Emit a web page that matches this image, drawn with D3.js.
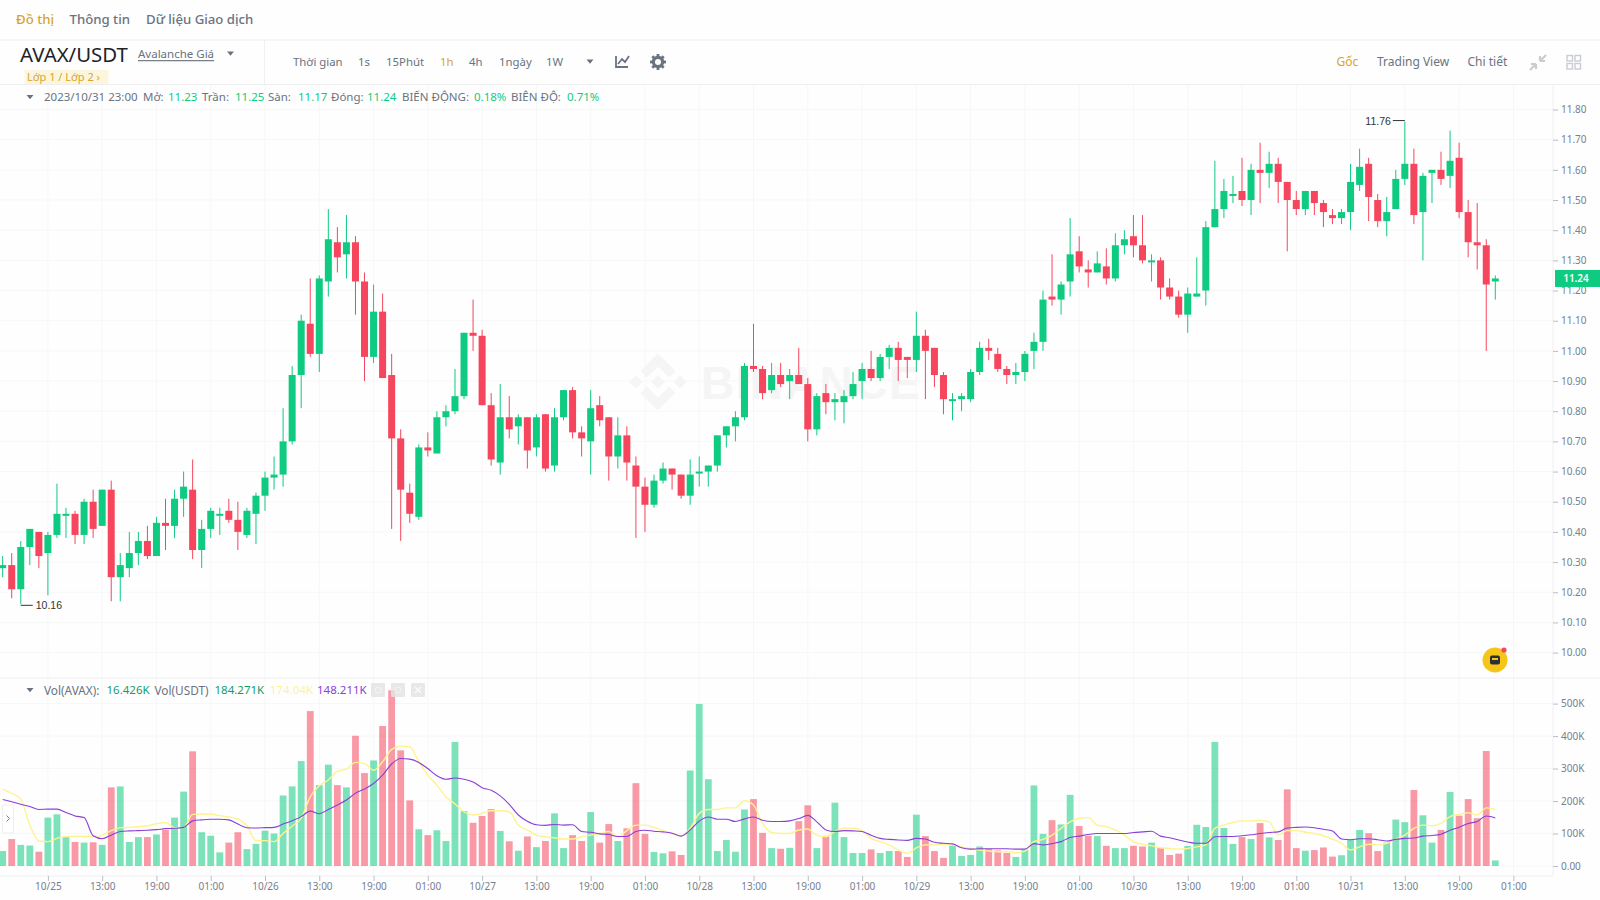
<!DOCTYPE html>
<html><head><meta charset="utf-8">
<script src="https://cdnjs.cloudflare.com/ajax/libs/d3/7.8.5/d3.min.js"></script>
<style>
html,body{margin:0;padding:0;background:#fefefe;overflow:hidden}
svg{display:block}
text{font-family:"Noto Sans",sans-serif}
</style></head><body>
<svg id="c" width="1600" height="900"></svg>
<script>
const opens=[10.28,10.29,10.21,10.35,10.40,10.33,10.39,10.46,10.46,10.39,
10.50,10.42,10.54,10.25,10.28,10.33,10.37,10.32,10.43,10.42,
10.51,10.54,10.34,10.41,10.46,10.47,10.44,10.39,10.46,10.52,
10.58,10.59,10.70,10.92,11.09,10.99,11.23,11.36,11.32,11.36,
11.23,10.98,11.13,10.92,10.71,10.53,10.45,10.68,10.66,10.78,
10.80,10.85,11.06,11.05,10.82,10.63,10.78,10.75,10.78,10.68,
10.79,10.62,10.78,10.87,10.73,10.70,10.82,10.78,10.65,10.72,
10.62,10.55,10.49,10.57,10.61,10.59,10.52,10.60,10.60,10.62,
10.72,10.75,10.78,10.95,10.94,10.87,10.92,10.90,10.92,10.89,
10.74,10.86,10.83,10.83,10.85,10.90,10.94,10.91,10.98,11.01,
10.98,10.97,11.05,11.01,10.92,10.84,10.84,10.84,10.93,11.01,
10.99,10.94,10.92,10.93,11.00,11.03,11.18,11.17,11.23,11.33,
11.27,11.26,11.28,11.24,11.35,11.38,11.35,11.30,11.30,11.21,
11.18,11.12,11.18,11.20,11.41,11.47,11.52,11.53,11.50,11.60,
11.59,11.62,11.56,11.50,11.47,11.53,11.49,11.45,11.44,11.46,
11.55,11.62,11.50,11.43,11.47,11.57,11.62,11.46,11.59,11.60,
11.58,11.64,11.46,11.36,11.35,11.23];
const closes=[10.29,10.21,10.35,10.41,10.32,10.39,10.46,10.46,10.39,10.50,
10.41,10.54,10.25,10.29,10.33,10.37,10.32,10.43,10.42,10.51,
10.55,10.34,10.41,10.47,10.46,10.44,10.40,10.47,10.52,10.58,
10.59,10.70,10.92,11.10,10.99,11.24,11.37,11.31,11.36,11.23,
10.98,11.13,10.91,10.71,10.54,10.46,10.68,10.67,10.78,10.80,
10.85,11.06,11.05,10.82,10.64,10.78,10.74,10.78,10.67,10.78,
10.61,10.78,10.87,10.73,10.71,10.81,10.77,10.65,10.72,10.63,
10.55,10.49,10.57,10.61,10.59,10.52,10.59,10.60,10.62,10.72,
10.75,10.78,10.95,10.94,10.86,10.92,10.89,10.92,10.89,10.74,
10.85,10.83,10.84,10.85,10.89,10.94,10.91,10.98,11.01,10.97,
10.97,11.05,11.00,10.92,10.84,10.84,10.85,10.93,11.01,11.00,
10.94,10.92,10.93,10.99,11.03,11.17,11.17,11.22,11.32,11.28,
11.26,11.29,11.24,11.35,11.37,11.35,11.30,11.30,11.21,11.18,
11.12,11.19,11.19,11.41,11.47,11.53,11.52,11.50,11.60,11.59,
11.62,11.56,11.50,11.47,11.53,11.49,11.46,11.44,11.46,11.56,
11.61,11.51,11.43,11.46,11.57,11.62,11.45,11.58,11.60,11.57,
11.63,11.46,11.36,11.35,11.22,11.24];
const highs=[10.32,10.33,10.37,10.41,10.40,10.40,10.56,10.48,10.47,10.51,
10.54,10.54,10.57,10.33,10.40,10.40,10.42,10.45,10.51,10.54,
10.60,10.64,10.44,10.48,10.48,10.51,10.50,10.48,10.53,10.60,
10.65,10.81,10.95,11.12,11.24,11.25,11.47,11.41,11.45,11.38,
11.26,11.22,11.19,10.99,10.74,10.56,10.69,10.73,10.80,10.82,
10.94,11.06,11.17,11.07,10.86,10.89,10.85,10.79,10.78,10.79,
10.79,10.81,10.87,10.88,10.75,10.87,10.85,10.78,10.78,10.75,
10.65,10.58,10.59,10.63,10.61,10.59,10.64,10.65,10.62,10.72,
10.75,10.80,10.96,11.09,10.95,10.96,10.96,10.94,11.01,10.91,
10.86,10.89,10.86,10.87,10.93,10.96,11.00,10.99,11.02,11.03,
10.98,11.13,11.07,11.01,10.93,10.86,10.86,10.94,11.03,11.04,
11.01,10.95,10.96,11.00,11.06,11.20,11.32,11.23,11.44,11.38,
11.30,11.33,11.34,11.39,11.40,11.45,11.45,11.32,11.31,11.24,
11.20,11.21,11.31,11.43,11.63,11.57,11.58,11.64,11.62,11.69,
11.66,11.64,11.56,11.53,11.53,11.53,11.50,11.47,11.47,11.62,
11.67,11.64,11.52,11.51,11.60,11.76,11.67,11.59,11.60,11.66,
11.73,11.69,11.50,11.49,11.37,11.25];
const lows=[10.25,10.18,10.16,10.29,10.28,10.19,10.38,10.38,10.36,10.36,
10.38,10.42,10.17,10.17,10.25,10.29,10.31,10.32,10.34,10.38,
10.45,10.31,10.28,10.38,10.39,10.43,10.34,10.38,10.36,10.47,
10.54,10.55,10.69,10.81,10.98,10.93,11.18,11.26,11.24,11.12,
10.90,10.96,10.91,10.41,10.37,10.43,10.44,10.65,10.66,10.75,
10.79,10.84,11.00,10.82,10.62,10.59,10.71,10.69,10.61,10.65,
10.60,10.60,10.77,10.71,10.65,10.59,10.75,10.57,10.61,10.57,
10.38,10.40,10.48,10.56,10.54,10.51,10.49,10.55,10.55,10.60,
10.68,10.70,10.77,10.93,10.84,10.86,10.88,10.84,10.89,10.70,
10.72,10.79,10.77,10.76,10.84,10.84,10.90,10.90,10.94,10.90,
10.91,10.93,10.84,10.88,10.79,10.77,10.80,10.83,10.92,10.97,
10.93,10.89,10.89,10.90,10.94,11.00,11.15,11.12,11.18,11.26,
11.21,11.26,11.22,11.23,11.32,11.31,11.29,11.23,11.17,11.17,
11.11,11.06,11.18,11.15,11.41,11.44,11.49,11.48,11.45,11.49,
11.54,11.49,11.33,11.45,11.45,11.45,11.41,11.42,11.42,11.40,
11.53,11.43,11.41,11.38,11.47,11.55,11.42,11.30,11.49,11.55,
11.54,11.44,11.31,11.27,11.00,11.17];
const volumes=[46,83,65,63,44,149,159,89,74,72,
73,65,242,245,74,89,89,97,111,149,
229,353,104,93,42,72,104,52,68,109,
100,217,245,323,477,249,312,249,242,401,
286,325,431,541,356,202,113,95,110,77,
382,169,133,154,175,108,76,47,91,58,
77,162,55,95,77,166,72,129,77,116,
255,99,43,39,45,34,294,499,267,46,
80,44,174,206,102,55,53,56,138,187,
55,93,195,89,40,40,51,40,46,46,
28,158,92,46,25,63,31,34,60,53,
48,40,28,50,248,99,141,128,219,123,
93,92,62,55,55,62,60,72,55,34,
38,62,127,120,382,117,68,89,83,132,
88,80,236,55,47,49,57,29,33,80,
111,101,46,72,143,135,234,156,72,111,
228,155,206,147,354,17];
const maYellow=[237,224,206,126,77,75,85,91,91,91,
91,95,109,118,119,121,124,130,134,118,
118,159,160,160,155,151,145,124,78,78,
75,100,123,147,213,247,265,292,298,319,
316,295,321,359,369,367,321,280,249,213,
191,167,157,162,170,170,167,126,111,95,
90,87,83,83,90,95,100,106,90,109,
126,126,119,109,100,93,116,162,174,174,
179,179,201,188,131,103,100,100,111,114,
95,90,106,116,116,109,85,75,65,49,
39,56,65,65,67,65,59,54,49,46,
44,44,41,46,75,82,95,116,136,147,
149,126,121,111,95,75,67,62,56,54,
52,54,59,65,116,126,134,139,139,140,
136,95,109,109,104,100,93,83,70,49,
59,67,65,70,83,95,116,126,124,131,
152,159,164,157,179,174];
const maPurple=[205,198,190,183,174,175,175,165,154,149,
93,84,95,106,108,109,110,112,115,116,
119,139,142,144,144,142,129,118,117,118,
119,129,139,152,169,161,174,188,203,224,
237,254,280,314,331,329,319,300,278,267,
271,267,259,241,233,216,190,157,138,127,
125,128,126,127,106,104,99,97,91,91,
106,110,107,105,101,92,111,138,151,144,
144,137,145,151,141,137,137,139,146,156,
136,111,106,109,108,106,95,85,82,80,
79,85,83,73,70,68,56,52,53,53,
53,53,52,52,69,65,69,75,88,92,
97,100,100,100,100,103,105,107,92,87,
80,74,70,70,90,91,91,93,96,100,
103,105,117,119,120,118,113,108,83,81,
84,84,81,77,82,85,86,92,94,98,
110,119,131,137,154,148];
const priceTicks=[10.0,10.1,10.2,10.3,10.4,10.5,10.6,10.7,10.8,10.9,11.0,11.1,11.2,11.3,11.4,11.5,11.6,11.7,11.8];
const volTicks=[0,100,200,300,400,500];
const timeLabels=["10/25","13:00","19:00","01:00","10/26","13:00","19:00","01:00","10/27","13:00","19:00","01:00","10/28","13:00","19:00","01:00","10/29","13:00","19:00","01:00","10/30","13:00","19:00","01:00","10/31","13:00","19:00","01:00"];
const tickIndex=timeLabels.map((_,k)=>5+k*6);

const GREEN="#0ecb81",RED="#f6465d",GOLD="#d6a52c",GREY="#76808f",TXT="#6a7380";
const svg=d3.select("#c");
const n=opens.length, idx=d3.range(n);
const x=d3.scaleLinear().domain([0,165]).range([2.67,1495.3]);
const yP=d3.scaleLinear().domain([10,11.8]).range([652.6,109.5]);
const yV=d3.scaleLinear().domain([0,500]).range([866,703.6]);
const axisX=1553;

function T(s,px,py,size,color,opt={}){
  const t=svg.append("text").attr("x",px).attr("y",py).attr("font-size",size).attr("fill",color)
    .attr("dominant-baseline","central").text(s);
  if(opt.weight)t.attr("font-weight",opt.weight);
  if(opt.anchor)t.attr("text-anchor",opt.anchor);
  if(opt.family)t.style("font-family",opt.family);
  if(opt.deco)t.attr("text-decoration",opt.deco);
  return t;
}
function tri(cx,cy,c="#6a7380"){svg.append("path").attr("d",`M${cx-3.5},${cy-2}L${cx+3.5},${cy-2}L${cx},${cy+2.2}Z`).attr("fill",c);}
function hline(y,x1,x2,c="#f0f0f0"){svg.append("line").attr("x1",x1).attr("x2",x2).attr("y1",y).attr("y2",y).attr("stroke",c);}

svg.append("rect").attr("width",1600).attr("height",900).attr("fill","#fefefe");

// grid
const grid=svg.append("g").attr("stroke","#f7f7f7").attr("stroke-width",1);
grid.selectAll(".h").data(priceTicks).join("line").attr("x1",0).attr("x2",axisX).attr("y1",d=>yP(d)).attr("y2",d=>yP(d));
grid.selectAll(".hv").data(volTicks).join("line").attr("x1",0).attr("x2",axisX).attr("y1",d=>yV(d)).attr("y2",d=>yV(d));
grid.selectAll(".v").data(tickIndex).join("line").attr("x1",d=>x(d)).attr("x2",d=>x(d)).attr("y1",85).attr("y2",876);

// watermark
const wm=svg.append("g").attr("transform","translate(629.5,353.5) scale(0.45)");
wm.append("path").attr("fill","#f5f5f5").attr("d","M38.73 53.2l24.59-24.58 24.6 24.6 14.3-14.31L63.32 0 24.43 38.9l14.3 14.3zM0 63.31l14.3-14.3 14.31 14.3-14.31 14.3zM38.73 73.41L63.32 97.99l24.6-24.59 14.31 14.29-38.9 38.91-38.91-38.88-.02-.02zM98.01 63.31l14.3-14.3 14.3 14.3-14.3 14.3zM77.83 63.3L63.32 48.78 52.59 59.51l-1.24 1.23-2.54 2.54 14.51 14.5 14.51-14.47z");
T("BINANCE",701,383,46,"#f5f5f5",{weight:700,family:"Liberation Sans"}).attr("letter-spacing",1.5);

// header lines
hline(40,0,1600,"#eeeeee");hline(84.5,0,1600,"#eeeeee");hline(678,0,1600,"#eeeeee");
svg.append("line").attr("x1",264.5).attr("x2",264.5).attr("y1",40).attr("y2",84).attr("stroke","#f0f0f0");
svg.append("line").attr("x1",axisX).attr("x2",axisX).attr("y1",85).attr("y2",876).attr("stroke","#f0f0f0");
hline(876,0,axisX,"#f0f0f0");

// tabs
T("Đồ thị",16,19.3,13.2,GOLD,{weight:500});
T("Thông tin",69.5,19.3,13.2,TXT,{weight:500});
T("Dữ liệu Giao dịch",146,19.3,13.2,TXT,{weight:500});
T("AVAX/USDT",20,53.6,20.4,"#1e2329");
T("Avalanche Giá",138,53.6,11.5,TXT,{deco:"underline"});
tri(230.5,53.5);
svg.append("rect").attr("x",24.5).attr("y",70).attr("width",84).attr("height",14).attr("fill","#fdf6df");
T("Lớp 1 / Lớp 2 ›",27,76.2,11,"#d6a52c");
[["Thời gian",293,TXT],["1s",358,TXT],["15Phút",386,TXT],["1h",440,GOLD],["4h",469,TXT],["1ngày",499,TXT],["1W",546,TXT]]
 .forEach(d=>T(d[0],d[1],61.6,11.4,d[2]));
tri(590,61.5);
svg.append("path").attr("d","M616,56V67H628M618,64L622,59L625,62L629,56").attr("fill","none").attr("stroke","#6a7380").attr("stroke-width",1.8);
const gear=svg.append("g").attr("transform","translate(658,62)");
gear.append("circle").attr("r",4.6).attr("fill","none").attr("stroke","#6a7380").attr("stroke-width",3.2);
d3.range(8).forEach(k=>gear.append("rect").attr("x",-1.4).attr("y",-8).attr("width",2.8).attr("height",3).attr("fill","#6a7380").attr("transform",`rotate(${k*45})`));
T("Gốc",1336.5,61.6,12,GOLD);
T("Trading View",1377,61.6,12,TXT);
T("Chi tiết",1467.5,61.6,12,TXT);
svg.append("path").attr("d","M1530,70L1536,64M1536,64V69M1536,64H1531M1546,55L1540,61M1540,61V56M1540,61H1545").attr("fill","none").attr("stroke","#c9ccd1").attr("stroke-width",2.2);
[[0,0],[8,0],[0,8],[8,8]].forEach(o=>svg.append("rect").attr("x",1567+o[0]).attr("y",55.5+o[1]).attr("width",5.5).attr("height",5.5).attr("fill","none").attr("stroke","#c9ccd1").attr("stroke-width",1.4));

// info row
tri(30,97);
[["2023/10/31 23:00",44,TXT],["Mở:",143,TXT],["11.23",168,GREEN],["Trần:",202,TXT],["11.25",235,GREEN],["Sàn:",268,TXT],["11.17",298,GREEN],["Đóng:",331,TXT],["11.24",367,GREEN],["BIẾN ĐỘNG:",402,TXT],["0.18%",474,GREEN],["BIÊN ĐỘ:",511,TXT],["0.71%",567,GREEN]]
 .forEach(d=>T(d[0],d[1],96.3,11.5,d[2]));

// candles
const cg=svg.append("g");
const col=i=>closes[i]>=opens[i]?GREEN:RED;
cg.selectAll(".w").data(idx).join("line").attr("x1",x).attr("x2",x)
  .attr("y1",i=>yP(highs[i])).attr("y2",i=>yP(lows[i])).attr("stroke",col).attr("stroke-width",1);
cg.selectAll(".b").data(idx).join("rect").attr("x",i=>x(i)-3.5).attr("width",7)
  .attr("y",i=>yP(Math.max(opens[i],closes[i])))
  .attr("height",i=>Math.max(2,Math.abs(yP(opens[i])-yP(closes[i])))).attr("fill",col);

// high/low markers
const hi=d3.maxIndex(highs),lo=d3.minIndex(lows);
svg.append("line").attr("x1",x(hi)-12).attr("x2",x(hi)).attr("y1",yP(highs[hi])-1).attr("y2",yP(highs[hi])-1).attr("stroke","#333");
T(d3.format(".2f")(highs[hi]),x(hi)-14,yP(highs[hi])-1,10.5,"#333",{anchor:"end",family:"Liberation Sans"});
svg.append("line").attr("x1",x(lo)).attr("x2",x(lo)+12).attr("y1",yP(lows[lo])+1).attr("y2",yP(lows[lo])+1).attr("stroke","#333");
T(d3.format(".2f")(lows[lo]),x(lo)+15,yP(lows[lo])+1,10.5,"#333",{family:"Liberation Sans"});

// price axis
const pa=svg.append("g").attr("transform",`translate(${axisX},0)`).call(d3.axisRight(yP).tickValues(priceTicks).tickFormat(d3.format(".2f")).tickSize(5).tickPadding(3));
pa.select(".domain").remove();
pa.selectAll("line").attr("stroke","#b9bec6");
pa.selectAll("text").attr("font-size",10).attr("fill",GREY).style("font-family","Noto Sans");

// last price tag
const last=closes[n-1];
svg.append("rect").attr("x",1555).attr("y",yP(last)-8.5).attr("width",45).attr("height",17).attr("fill",GREEN);
T(d3.format(".2f")(last),1576,yP(last),10,"#fff",{anchor:"middle",weight:600});

// support bubble
svg.append("circle").attr("cx",1495).attr("cy",660).attr("r",12.5).attr("fill","#f5c518");
svg.append("rect").attr("x",1490).attr("y",655.5).attr("width",10).attr("height",9).attr("rx",2).attr("fill","#2b2f36");
svg.append("rect").attr("x",1492).attr("y",658).attr("width",6).attr("height",2).attr("fill","#f5c518");
svg.append("circle").attr("cx",1504).attr("cy",650).attr("r",2.6).attr("fill","#f6465d");

// volume bars
const vg=svg.append("g");
vg.selectAll("rect").data(idx).join("rect").attr("x",i=>x(i)-3.4).attr("width",6.8)
  .attr("y",i=>yV(volumes[i])).attr("height",i=>yV(0)-yV(volumes[i]))
  .attr("fill",col).attr("fill-opacity",0.55);

// MA lines
const ln=a=>d3.line().x(x).y(i=>yV(a[i])).curve(d3.curveMonotoneX)(idx);
svg.append("path").attr("d",ln(maYellow)).attr("fill","none").attr("stroke","#fff38f").attr("stroke-width",1.4);
svg.append("path").attr("d",ln(maPurple)).attr("fill","none").attr("stroke","#8a3fd6").attr("stroke-width",1.1);

// vol legend
tri(30,690);
T("Vol(AVAX):",44,689.6,11.8,TXT);
T("16.426K",106.5,689.6,11.5,"#0f9f6e");
T("Vol(USDT)",154.5,689.6,11.8,TXT);
T("184.271K",214.5,689.6,11.5,"#0f9f6e");
T("174.04K",270,689.6,11.5,"#fff38f");
T("148.211K",317,689.6,11.5,"#8a3fd6");
[378,398,418].forEach((cx,k)=>{
  svg.append("rect").attr("x",cx-7).attr("y",683).attr("width",14).attr("height",14).attr("rx",1).attr("fill","#e4e4e4").attr("fill-opacity",0.85);
  if(k==2)svg.append("path").attr("d",`M${cx-3},687L${cx+3},693M${cx+3},687L${cx-3},693`).attr("stroke","#fafafa").attr("stroke-width",1.3);
  else svg.append("circle").attr("cx",cx).attr("cy",690).attr("r",3).attr("fill","none").attr("stroke","#f4f4f4");
});

// vol axis
const va=svg.append("g").attr("transform",`translate(${axisX},0)`).call(d3.axisRight(yV).tickValues(volTicks).tickFormat(d=>d===0?"0.00":d+"K").tickSize(5).tickPadding(3));
va.select(".domain").remove();
va.selectAll("line").attr("stroke","#b9bec6");
va.selectAll("text").attr("font-size",10).attr("fill",GREY).style("font-family","Noto Sans");

// time axis
const ta=svg.append("g").attr("transform","translate(0,876)").call(d3.axisBottom(x).tickValues(tickIndex).tickFormat((d,k)=>timeLabels[k]).tickSize(5).tickPadding(2));
ta.select(".domain").remove();
ta.selectAll("line").attr("stroke","#b9bec6");
ta.selectAll("text").attr("font-size",10).attr("fill",GREY).style("font-family","Noto Sans");

// side handle
svg.append("rect").attr("x",2.5).attr("y",805).attr("width",11).attr("height",28).attr("fill","#fff").attr("stroke","#efefef");
svg.append("path").attr("d","M6.5,815.5L9.5,818.5L6.5,821.5").attr("fill","none").attr("stroke","#76808f");
</script></body></html>
